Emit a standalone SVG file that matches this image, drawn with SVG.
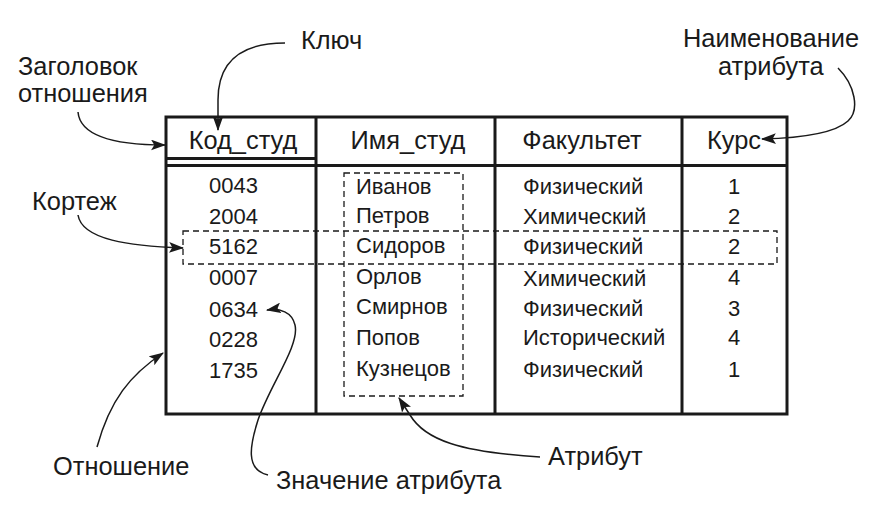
<svg xmlns="http://www.w3.org/2000/svg" width="876" height="519" viewBox="0 0 876 519">
<style>
.t{font-family:"Liberation Sans",Arial,sans-serif;fill:#1a1a1a}
.lbl{font-size:25.4px}
.hdr{font-size:25.4px;text-anchor:middle}
.d{font-size:22px}
.c{text-anchor:middle}
.tb{stroke:#1a1a1a;stroke-width:3;fill:none}
.dash{stroke:#1a1a1a;stroke-width:1.3;fill:none;stroke-dasharray:6 4}
.ar{stroke:#1a1a1a;stroke-width:1.5;fill:none;marker-end:url(#ah)}
</style>
<defs>
<marker id="ah" viewBox="0 0 14 10" refX="13" refY="5" markerWidth="15" markerHeight="11" markerUnits="userSpaceOnUse" orient="auto">
<path d="M0,0 L14,5 L0,10 L3,5 Z" fill="#1a1a1a"/>
</marker>
</defs>
<rect width="876" height="519" fill="#fff"/>
<g id="table">
<rect class="tb" x="166" y="117" width="621" height="297"/>
<line class="tb" x1="316" y1="117" x2="316" y2="414"/>
<line class="tb" x1="495" y1="117" x2="495" y2="414"/>
<line class="tb" x1="682" y1="117" x2="682" y2="414"/>
<line class="tb" x1="166" y1="158.5" x2="316" y2="158.5"/>
<line class="tb" x1="166" y1="165.5" x2="787" y2="165.5"/>
<text class="t hdr" x="243" y="149">Код_студ</text>
<text class="t hdr" x="408" y="149">Имя_студ</text>
<text class="t hdr" x="582" y="149">Факультет</text>
<text class="t hdr" x="734" y="149">Курс</text>
</g>
<g id="col-kod" class="t d">
<text x="209" y="193">0043</text>
<text x="209" y="224">2004</text>
<text x="209" y="254">5162</text>
<text x="209" y="285">0007</text>
<text x="209" y="317">0634</text>
<text x="209" y="347">0228</text>
<text x="209" y="378">1735</text>
</g>
<g id="col-name" class="t d">
<text x="356" y="194">Иванов</text>
<text x="356" y="223">Петров</text>
<text x="356" y="253">Сидоров</text>
<text x="356" y="284">Орлов</text>
<text x="356" y="314">Смирнов</text>
<text x="356" y="345">Попов</text>
<text x="356" y="376">Кузнецов</text>
</g>
<g id="col-fac" class="t d">
<text x="523" y="194">Физический</text>
<text x="523" y="224">Химический</text>
<text x="523" y="254">Физический</text>
<text x="523" y="286">Химический</text>
<text x="523" y="316">Физический</text>
<text x="523" y="345">Исторический</text>
<text x="523" y="377">Физический</text>
</g>
<g id="col-kurs" class="t d c">
<text x="734" y="194">1</text>
<text x="734" y="224">2</text>
<text x="734" y="254">2</text>
<text x="734" y="285">4</text>
<text x="734" y="316">3</text>
<text x="734" y="345">4</text>
<text x="734" y="377">1</text>
</g>
<g id="attribute-box"><rect class="dash" x="344" y="173" width="119" height="223"/></g>
<g id="tuple-box"><rect class="dash" x="183" y="231" width="594" height="33"/></g>
<g id="labels" class="t lbl">
<text x="301" y="49">Ключ</text>
<text x="18" y="75">Заголовок</text>
<text x="18" y="102">отношения</text>
<text x="683" y="47">Наименование</text>
<text x="718" y="75">атрибута</text>
<text x="32" y="210">Кортеж</text>
<text x="53" y="475">Отношение</text>
<text x="276" y="489">Значение атрибута</text>
<text x="548" y="465">Атрибут</text>
</g>
<g id="connectors">
<path class="ar" d="M285,43 C240,43 218,62 218,100 L218,130"/>
<path class="ar" d="M78,112 C80,135 110,145 165,145"/>
<path class="ar" d="M838,68 C855,85 860,110 848,121 C835,133 800,138 762,139"/>
<path class="ar" d="M78,215 C82,240 130,246 183,248"/>
<path class="ar" d="M97,447 C110,400 130,375 163,353"/>
<path class="ar" d="M268,475 C245,470 250,445 258,420 C270,385 300,345 295,325 C292,312 280,308 267,310"/>
<path class="ar" d="M540,457 C460,452 425,440 410,415 L399,398"/>
</g>
</svg>
